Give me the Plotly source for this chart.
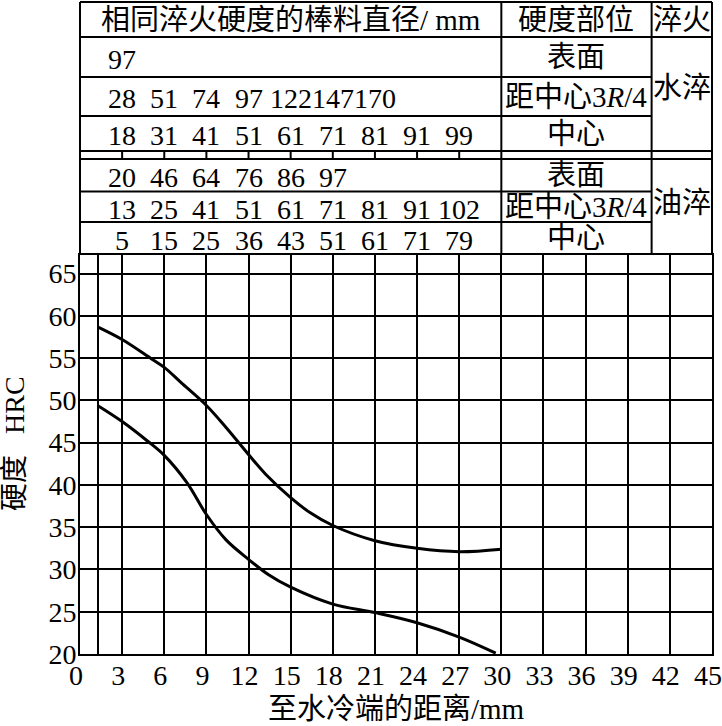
import plotly.graph_objects as go

# hardness band: distance from quenched end (mm) vs HRC
dist_upper = [1.25, 3, 5.1, 6, 7.2, 9, 10.4, 12, 13.2, 15, 16.4, 18, 21, 24, 27, 30]
hrc_upper = [58.7, 57.2, 54.9, 53.9, 52.1, 49.4, 46.8, 43.6, 41.3, 38.5, 36.7, 35.2, 33.4, 32.5, 32.1, 32.4]
dist_lower = [1.25, 3, 4.8, 6, 7.6, 9, 10.4, 12, 13.4, 15, 18, 21, 24, 27, 29.6]
hrc_lower = [49.4, 47.5, 45.2, 43.5, 40.3, 36.5, 33.5, 31.2, 29.4, 27.9, 25.9, 24.9, 23.7, 22.0, 20.1]

x_ticks = [0, 3, 6, 9, 12, 15, 18, 21, 24, 27, 30, 33, 36, 39, 42, 45]
x_extra_grid = [1.25]
y_ticks = [20, 25, 30, 35, 40, 45, 50, 55, 60, 65]

# bar diameters (mm) giving the same hardness, one per Jominy distance
table_dist = [3, 6, 9, 12, 15, 18, 21, 24, 27]
water_surface = [97]
water_3r4 = [28, 51, 74, 97, 122, 147, 170]
water_center = [18, 31, 41, 51, 61, 71, 81, 91, 99]
oil_surface = [20, 46, 64, 76, 86, 97]
oil_3r4 = [13, 25, 41, 51, 61, 71, 81, 91, 102]
oil_center = [5, 15, 25, 36, 43, 51, 61, 71, 79]

header = ["相同淬火硬度的棒料直径/ mm", "硬度部位", "淬火"]
positions = ["表面", "距中心3<i>R</i>/4", "中心"]
quench = ["水淬", "油淬"]

W, H = 722, 726
ML, MR, MT, MB = 80, 10, 2, 72
X_MAX = 45
Y_RANGE = [20, 67.2]
FONT = "Liberation Serif, Noto Sans CJK SC"


def py(y_px):
    # pixel row -> paper y
    return (H - MB - y_px) / (H - MB - MT)


def px(x_val):
    # data x -> paper x
    return x_val / X_MAX


# table geometry (pixels from top, data units across)
col_edges = [0, 30, 40.7, 45]
plot_top = 255

fig = go.Figure()
fig.add_trace(go.Scatter(x=dist_upper, y=hrc_upper, mode="lines",
                         line=dict(color="black", width=3, shape="spline", smoothing=1.0),
                         showlegend=False, hoverinfo="skip"))
fig.add_trace(go.Scatter(x=dist_lower, y=hrc_lower, mode="lines",
                         line=dict(color="black", width=3, shape="spline", smoothing=1.0),
                         showlegend=False, hoverinfo="skip"))

line = dict(color="black", width=2)
shapes = []
# vertical table borders
for c in col_edges:
    shapes.append(dict(type="line", xref="paper", yref="paper", x0=px(c), x1=px(c),
                       y0=py(2), y1=py(plot_top), line=line))
# horizontal table lines: full width or only up to the quench column
full_rows = [2, 37, 151, 159]
part_rows = [77, 116, 191.5, 222]
for r in full_rows:
    shapes.append(dict(type="line", xref="paper", yref="paper", x0=0, x1=1,
                       y0=py(r), y1=py(r), line=line))
for r in part_rows:
    shapes.append(dict(type="line", xref="paper", yref="paper", x0=0, x1=px(col_edges[2]),
                       y0=py(r), y1=py(r), line=line))
# small ticks in the separator row
for d in table_dist:
    shapes.append(dict(type="line", xref="paper", yref="paper", x0=px(d), x1=px(d),
                       y0=py(151), y1=py(159), line=line))

ann = []


def txt(text, x, y_px, xref="x", size=28):
    ann.append(dict(text=text, x=x, y=py(y_px), xref=xref, yref="paper",
                    showarrow=False, xanchor="center", yanchor="middle",
                    font=dict(family=FONT, size=size, color="black")))


# header row
txt(header[0], px((col_edges[0] + col_edges[1]) / 2), 20, xref="paper", size=29)
txt(header[1], px((col_edges[1] + col_edges[2]) / 2), 20, xref="paper", size=29)
txt(header[2], px((col_edges[2] + col_edges[3]) / 2), 20, xref="paper", size=29)

rows = [water_surface, water_3r4, water_center, oil_surface, oil_3r4, oil_center]
row_mid = [57, 96.5, 133.5, 175, 207, 238.5]
for vals, ym in zip(rows, row_mid):
    for d, v in zip(table_dist, vals):
        txt(str(v), d, ym + 2)
for i, ym in enumerate(row_mid):
    txt(positions[i % 3], px((col_edges[1] + col_edges[2]) / 2), ym, xref="paper", size=29)
txt(quench[0], px((col_edges[2] + col_edges[3]) / 2), 88, xref="paper", size=29)
txt(quench[1], px((col_edges[2] + col_edges[3]) / 2), 203, xref="paper", size=29)

# axis titles
ann.append(dict(text="至水冷端的距离/mm", x=0.5, y=py(709), xref="paper", yref="paper",
                showarrow=False, xanchor="center", yanchor="middle",
                font=dict(family=FONT, size=29, color="black")))
ann.append(dict(text="硬度   HRC", x=0, xshift=-66, y=py(444), xref="paper", yref="paper",
                showarrow=False, xanchor="center", yanchor="middle", textangle=-90,
                font=dict(family=FONT, size=28, color="black")))

fig.update_layout(
    width=W, height=H,
    margin=dict(l=ML, r=MR, t=MT, b=MB, autoexpand=False),
    paper_bgcolor="white", plot_bgcolor="white",
    shapes=shapes, annotations=ann,
    xaxis=dict(range=[0, X_MAX], tickmode="array", tickvals=x_ticks,
               showgrid=True, gridcolor="black", gridwidth=2,
               minor=dict(tickmode="array", tickvals=x_extra_grid, showgrid=True,
                          gridcolor="black", gridwidth=2, ticks=""),
               showline=True, mirror=True, linecolor="black", linewidth=2,
               ticks="", zeroline=False, ticklabelstandoff=-5, ticklabelshift=-4,
               ticklabeloverflow="allow",
               tickfont=dict(family=FONT, size=28, color="black")),
    yaxis=dict(range=Y_RANGE, domain=[0, py(plot_top)], tickmode="array", tickvals=y_ticks,
               showgrid=True, gridcolor="black", gridwidth=2,
               showline=True, mirror=True, linecolor="black", linewidth=2,
               ticks="", zeroline=False, ticklabelstandoff=-4,
               tickfont=dict(family=FONT, size=28, color="black")),
)

fig.write_html("out.html", config={"displayModeBar": False},
               post_script="document.body.style.margin='0';")
